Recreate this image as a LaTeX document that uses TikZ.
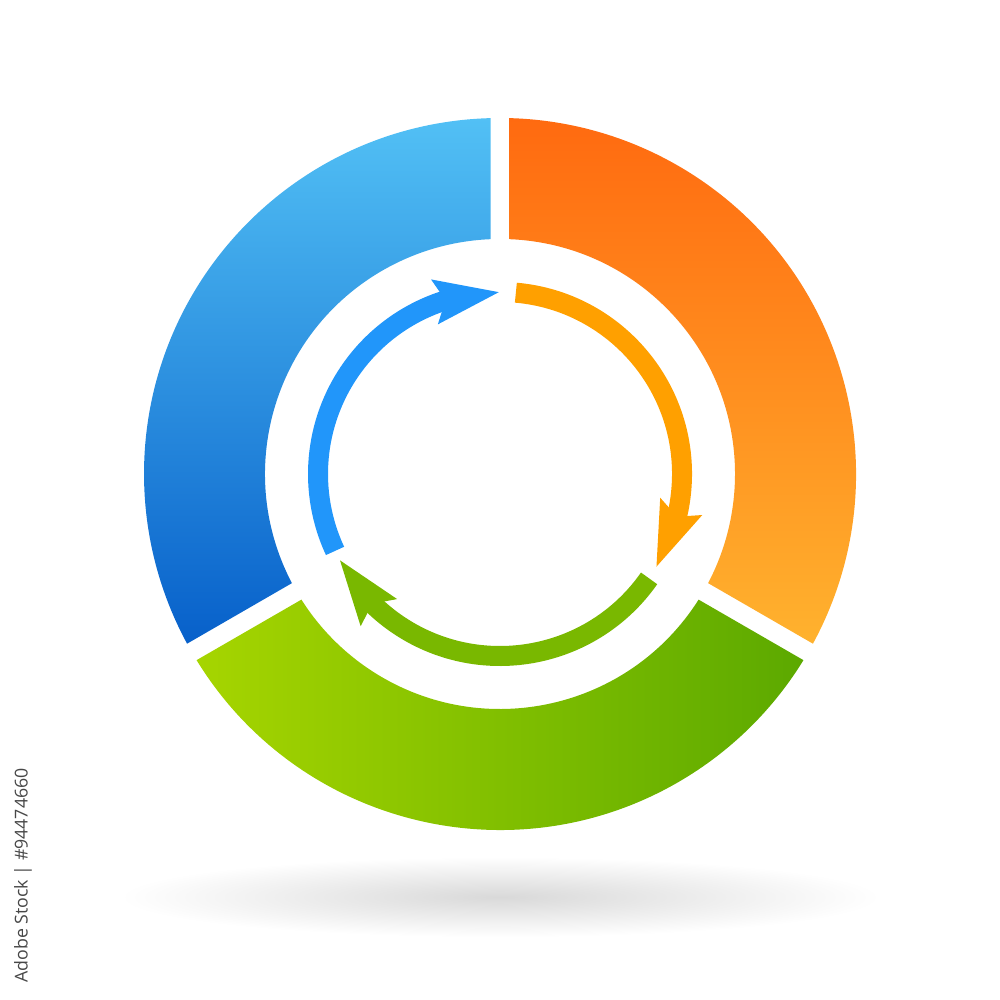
\documentclass[tikz,border=0pt]{standalone}
\usepackage{fontspec}
\setsansfont{Open Sans}
\usepackage{tikz}
\usetikzlibrary{arrows.meta, bending, positioning, calc}

\definecolor{blueTop}{HTML}{52C0F5}
\definecolor{blueBot}{HTML}{0760CA}
\definecolor{orangeTop}{HTML}{FF6A10}
\definecolor{orangeBot}{HTML}{FFB22E}
\definecolor{greenL}{HTML}{A6D500}
\definecolor{greenR}{HTML}{5CA900}
\definecolor{blueArr}{HTML}{2196FA}
\definecolor{orangeArr}{HTML}{FFA000}
\definecolor{greenArr}{HTML}{79B800}

\pgfdeclareradialshading{floorshadow}{\pgfpoint{0bp}{0bp}}{%
  color(0bp)=(black!15); color(10bp)=(black!9); color(25bp)=(white); color(50bp)=(white)}

\def\Rout{3.56}
\def\Rin{2.35}
\def\Rarr{1.82}
\def\dO{1.53}
\def\dI{2.32}
\newcommand{\ringseg}[2]{%
  ([shift={(#1+\dO:\Rout)}]ring) arc[start angle=#1+\dO, end angle=#2-\dO, radius=\Rout]
  -- ([shift={(#2-\dI:\Rin)}]ring) arc[start angle=#2-\dI, end angle=#1+\dI, radius=\Rin] -- cycle}

\tikzset{
  cycarrow/.style={line width=0.2cm, -{Stealth[length=0.64cm, width=0.42cm, inset=0.09cm, flex]}},
}

\begin{document}
\begin{tikzpicture}
    \useasboundingbox (0,0) rectangle (10,10);
    \coordinate (ring) at (5,5.26);
    \coordinate (floor) at (5,1.03);

    \shade[shading=floorshadow] (floor) ellipse (3.8 and 0.4);

    \shade[top color=blueTop, bottom color=blueBot] \ringseg{90}{210};
    \shade[left color=greenL, right color=greenR] \ringseg{210}{330};
    \shade[top color=orangeTop, bottom color=orangeBot] \ringseg{-30}{90};

    \draw[cycarrow, blueArr] ([shift={(205:\Rarr)}]ring) arc[start angle=205, end angle=90, radius=\Rarr];
    \draw[cycarrow, orangeArr] ([shift={(85:\Rarr)}]ring) arc[start angle=85, end angle=-31, radius=\Rarr];
    \draw[cycarrow, greenArr] ([shift={(-35:\Rarr)}]ring) arc[start angle=-35, end angle=-152, radius=\Rarr];

    \node[rotate=90, font=\sffamily\fontsize{5.05}{6}\selectfont, text=black!72] (stockid) at (0.23,1.245) {Adobe Stock | \#94474660};
\end{tikzpicture}
\end{document}
